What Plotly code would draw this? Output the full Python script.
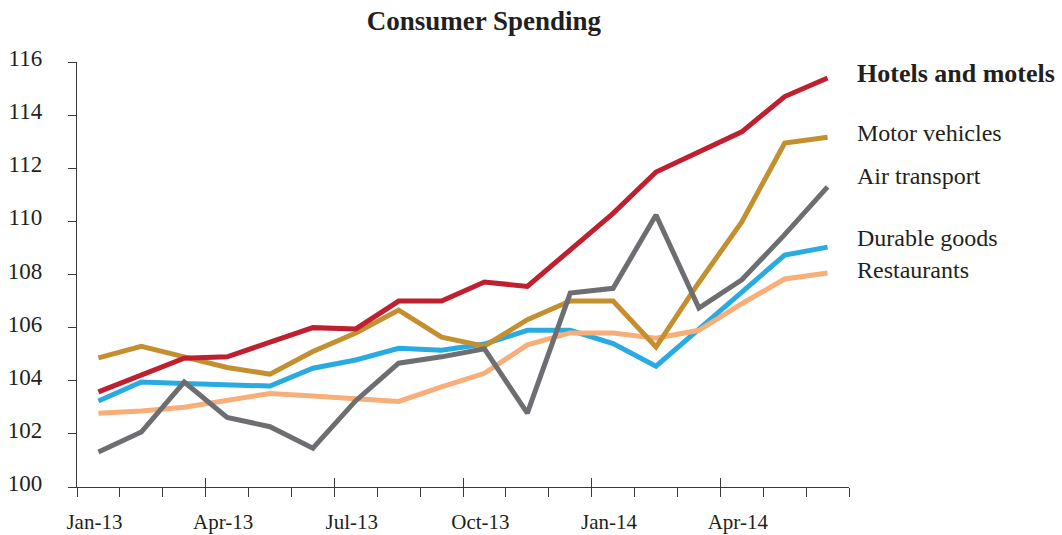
import plotly.graph_objects as go

months = ["Jan-13", "Feb-13", "Mar-13", "Apr-13", "May-13", "Jun-13", "Jul-13", "Aug-13", "Sep-13",
          "Oct-13", "Nov-13", "Dec-13", "Jan-14", "Feb-14", "Mar-14", "Apr-14", "May-14", "Jun-14"]
tick_labels = ["Jan-13", "Apr-13", "Jul-13", "Oct-13", "Jan-14", "Apr-14"]

hotels = [103.58, 104.2, 104.85, 104.9, 105.46, 106.0, 105.95, 107.0, 107.0, 107.72, 107.55, 108.92,
          110.3, 111.86, 112.6, 113.37, 114.7, 115.4]
motor = [104.86, 105.3, 104.9, 104.5, 104.25, 105.1, 105.8, 106.66, 105.64, 105.3, 106.3, 107.0,
         107.0, 105.27, 107.7, 109.98, 112.95, 113.17]
air = [101.32, 102.07, 103.95, 102.62, 102.27, 101.46, 103.25, 104.66, 104.9, 105.2, 102.78, 107.3,
       107.48, 110.24, 106.74, 107.8, 109.5, 111.3]
durable = [103.24, 103.95, 103.9, 103.87, 103.8, 104.47, 104.78, 105.22, 105.15, 105.38, 105.9, 105.9,
           105.4, 104.55, 105.95, 107.34, 108.73, 109.03]
restaurants = [102.78, 102.86, 103.0, 103.27, 103.52, 103.43, 103.32, 103.22, 103.77, 104.28, 105.35, 105.8,
               105.8, 105.6, 105.9, 106.9, 107.83, 108.06]

series_names = ["Durable goods", "Restaurants", "Motor vehicles", "Hotels and motels", "Air transport"]
series_values = [durable, restaurants, motor, hotels, air]
series_colors = ["#29ABE2", "#F7AE78", "#C48F2E", "#C01F2F", "#6D6E71"]

# right-side label anchor values (y in data units)
label_names = ["Hotels and motels", "Motor vehicles", "Air transport", "Durable goods", "Restaurants"]
label_y = [115.55, 113.33, 111.71, 109.37, 108.17]
label_bold = [True, False, False, False, False]

FONT = "Liberation Serif, Times New Roman, serif"
AX = "#3a3a3a"

idx = list(range(len(months)))
fig = go.Figure()
for name, vals, col in zip(series_names, series_values, series_colors):
    fig.add_trace(go.Scatter(x=idx, y=vals, mode="lines", name=name,
                             line=dict(color=col, width=5), hovertext=months, showlegend=False))

# empty traces to host overlay tick axes
fig.add_trace(go.Scatter(x=[], y=[], xaxis="x2", showlegend=False))
fig.add_trace(go.Scatter(x=[], y=[], xaxis="x3", showlegend=False))

n = len(months)
boundaries = [i - 0.5 for i in range(n + 1)]
major_bounds = [b for k, b in enumerate(boundaries) if k % 3 == 0]
xr = [-0.5, n - 0.5]

for lab, bold, yv in zip(label_names, label_bold, label_y):
    fig.add_annotation(x=1.0078, xref="paper", y=yv, yref="y", xanchor="left", yanchor="middle",
                       text=("<b>%s</b>" % lab) if bold else lab, showarrow=False,
                       font=dict(family=FONT, size=26 if bold else 24, color="#231f20"))

fig.update_layout(
    width=1062, height=535,
    margin=dict(l=77, r=213, t=62, b=48, autoexpand=False),
    paper_bgcolor="white", plot_bgcolor="white",
    title=dict(text="<b>Consumer Spending</b>", x=0.527, xref="paper", xanchor="center",
               y=0.962, yref="container", yanchor="middle",
               font=dict(family=FONT, size=27, color="#231f20")),
    xaxis=dict(range=xr, tickmode="array", tickvals=[0, 3, 6, 9, 12, 15], ticktext=tick_labels,
               ticks="", showline=True, linecolor=AX, linewidth=1.3, showgrid=False, zeroline=False,
               automargin=False, ticklabelshift=-4,
               tickfont=dict(family=FONT, size=21, color="#231f20"), ticklabelstandoff=16),
    xaxis2=dict(range=xr, overlaying="x", anchor="y", tickmode="array", tickvals=boundaries,
                ticks="outside", ticklen=9, tickwidth=1.3, tickcolor=AX, showticklabels=False,
                showline=False, showgrid=False, zeroline=False, automargin=False),
    xaxis3=dict(range=xr, overlaying="x", anchor="y", tickmode="array", tickvals=major_bounds,
                ticks="inside", ticklen=9, tickwidth=1.3, tickcolor=AX, showticklabels=False,
                showline=False, showgrid=False, zeroline=False, automargin=False),
    yaxis=dict(range=[100, 116], tickmode="array", tickvals=list(range(100, 117, 2)),
               ticks="outside", ticklen=8, tickwidth=1.3, tickcolor=AX, showline=True,
               linecolor=AX, linewidth=1.3, showgrid=False, zeroline=False, automargin=False,
               ticklabelshift=-4,
               tickfont=dict(family=FONT, size=23, color="#231f20"), ticklabelstandoff=21),
)

fig.write_html("out.html", config={"displayModeBar": False},
               post_script="document.body.style.margin='0';")
